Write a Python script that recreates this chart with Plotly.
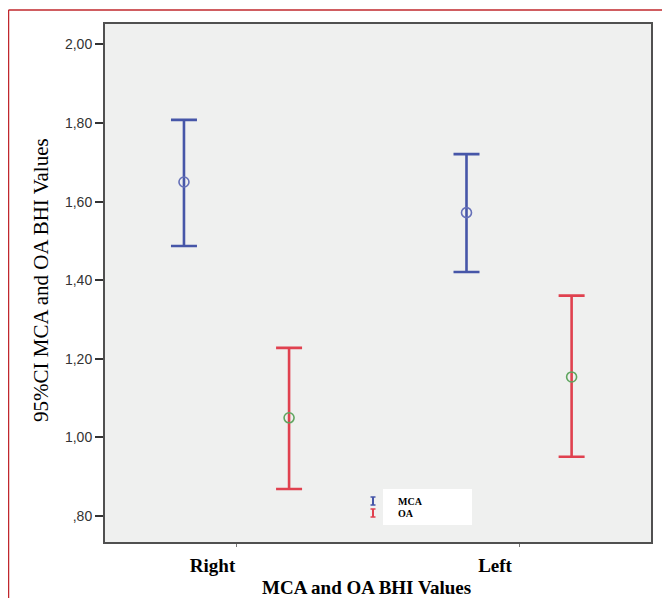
import plotly.graph_objects as go

# ---- data ----
categories = ["Right", "Left"]
cat_pos = [1, 2]
mca_mean = [1.650, 1.572]
mca_upper = [1.808, 1.721]
mca_lower = [1.487, 1.421]
oa_mean = [1.050, 1.154]
oa_upper = [1.228, 1.361]
oa_lower = [0.869, 0.951]
y_tickvals = [0.8, 1.0, 1.2, 1.4, 1.6, 1.8, 2.0]
y_ticktext = [",80", "1,00", "1,20", "1,40", "1,60", "1,80", "2,00"]

offset = 0.186
BLUE = "#4656A8"
RED = "#E0414F"

fig = go.Figure()

def add_series(means, up, lo, dx, color, mcolor, name):
    xs = [c + dx for c in cat_pos]
    fig.add_trace(go.Scatter(
        x=xs, y=means, mode="markers", name=name, showlegend=False,
        marker=dict(symbol="circle-open", size=10, color=mcolor, line=dict(width=1.6, color=mcolor)),
        error_y=dict(type="data", symmetric=False,
                     array=[u - m for u, m in zip(up, means)],
                     arrayminus=[m - l for m, l in zip(means, lo)],
                     color=color, thickness=2.6, width=13),
    ))

add_series(mca_mean, mca_upper, mca_lower, -offset, BLUE, "#6570B8", "MCA")
add_series(oa_mean, oa_upper, oa_lower, offset, RED, "#5FA55F", "OA")

# page body adds an 8px offset; work in reference pixel coords and subtract it
OFF = 8
W, H = 670 - OFF, 598 - OFF
L, R, T, B = 105 - OFF, 19, 24 - OFF, 56
pw, ph = W - L - R, H - T - B

def px(x):
    return (x - OFF - L) / pw

def py(y):
    return (H - B - (y - OFF)) / ph

shapes = []
# red frame
shapes.append(dict(type="line", xref="paper", yref="paper", x0=px(8.5), x1=px(8.5), y0=py(10), y1=py(640),
                   line=dict(color="#C0272D", width=1.5)))
shapes.append(dict(type="line", xref="paper", yref="paper", x0=px(8.5), x1=px(700), y0=py(10), y1=py(10),
                   line=dict(color="#C0272D", width=1.5)))
# legend box
shapes.append(dict(type="rect", xref="paper", yref="paper", x0=px(383), x1=px(472), y0=py(525), y1=py(489),
                   fillcolor="white", line=dict(width=0), layer="below"))
# legend glyphs (I-shaped error bars)
for yc, col in [(501, BLUE), (513, RED)]:
    shapes.append(dict(type="line", xref="paper", yref="paper", x0=px(373), x1=px(373), y0=py(yc - 4), y1=py(yc + 4),
                       line=dict(color=col, width=2)))
    for yy in (yc - 4, yc + 4):
        shapes.append(dict(type="line", xref="paper", yref="paper", x0=px(370.5), x1=px(375.5), y0=py(yy), y1=py(yy),
                           line=dict(color=col, width=1.5)))

annotations = [
    dict(text="MCA", xref="paper", yref="paper", x=px(396), y=py(501), xanchor="left", yanchor="middle",
         showarrow=False, font=dict(family="Liberation Serif", size=10, color="black", weight="bold")),
    dict(text="OA", xref="paper", yref="paper", x=px(396), y=py(513), xanchor="left", yanchor="middle",
         showarrow=False, font=dict(family="Liberation Serif", size=10, color="black", weight="bold")),
    dict(text="MCA and OA BHI Values", xref="paper", yref="paper", x=px(366), y=py(587), xanchor="center",
         yanchor="middle", showarrow=False,
         font=dict(family="Liberation Serif", size=19, color="black", weight="bold")),
    dict(text="95%CI MCA and OA BHI Values", xref="paper", yref="paper", x=px(41), y=py(280), xanchor="center",
         yanchor="middle", textangle=-90, showarrow=False,
         font=dict(family="Liberation Serif", size=21, color="black")),
]

fig.update_layout(
    width=W, height=H, margin=dict(l=L, r=R, t=T, b=B),
    paper_bgcolor="white", plot_bgcolor="#EFF0EF",
    shapes=shapes, annotations=annotations,
    xaxis=dict(range=[0.5345, 2.467], tickvals=cat_pos, ticktext=categories,
               showgrid=False, zeroline=False, showline=True, mirror=True, linecolor="#505050", linewidth=2,
               ticks="outside", ticklen=3, tickcolor="#777", tickwidth=1,
               ticklabelshift=-24, ticklabelstandoff=2,
               tickfont=dict(family="Liberation Serif", size=19, color="black", weight="bold")),
    yaxis=dict(range=[0.734, 2.052], tickvals=y_tickvals, ticktext=y_ticktext,
               showgrid=False, zeroline=False, showline=True, mirror=True, linecolor="#505050", linewidth=2,
               ticks="outside", ticklen=8, tickcolor="#333", tickwidth=1.5,
               tickfont=dict(family="Liberation Sans", size=14, color="#333")),
)

fig.write_html("out.html")
